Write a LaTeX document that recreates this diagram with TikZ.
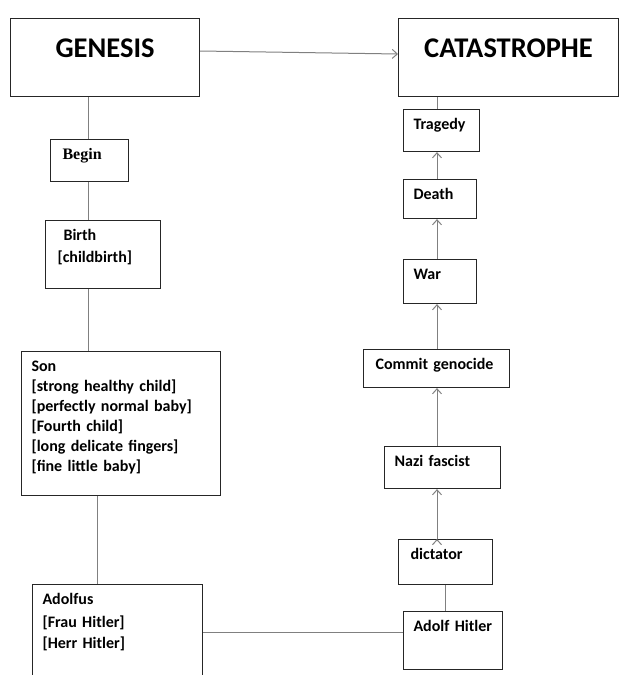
\documentclass[tikz,border=0pt]{standalone}
\usepackage{fontspec}
\setmainfont{Carlito}
\newfontfamily\serifbox{Liberation Serif}
\usetikzlibrary{arrows.meta}

\begin{document}
\begin{tikzpicture}
  [x=1pt,y=-1pt,
   every node/.style={draw=black!85,line width=1.1pt,anchor=north west,
     inner xsep=10pt,inner ysep=0pt,align=left,
     font=\fontsize{16}{20}\selectfont\bfseries},
   box/.style 2 args={text width=#1pt-20pt,text height=20pt,text depth=#2pt-20pt},
   title/.style 2 args={text width=#1pt-20pt,text height=39pt,text depth=#2pt-39pt,
     align=center,font=\fontsize{28.5}{34}\selectfont\bfseries}]

  \tikzstyle{link} = [draw=black!50,line width=1pt]
  \tikzstyle{arr} = [link,-{Straight Barb[length=5pt,width=9pt]}]

  \clip (0,0) rectangle (619,675);

  \node[title={189}{78}] (genesis)     at (10,18)  {GENESIS};
  \node[title={220}{78}] (catastrophe) at (398,18) {CATASTROPHE};

  % left column
  \node[box={78}{42},font=\serifbox\fontsize{16}{20}\selectfont\bfseries]
                         (begin)   at (50,139) {\hspace*{2pt}Begin};
  \node[box={115}{68}]   (birth)   at (45,220) {\hspace*{8pt}Birth\\[2pt]\hspace*{2pt}{[}childbirth]};
  \node[box={199}{144}]  (son)     at (21,351) {Son\\{[}strong healthy child]\\{[}perfectly normal baby]\\{[}Fourth child]\\{[}long delicate fingers]\\{[}fine little baby]};
  \node[box={170}{110}]  (adolfus) at (32,584) {Adolfus\\[3pt]{[}Frau Hitler]\\[1pt]{[}Herr Hitler]};

  % right column
  \node[box={76}{42}]    (tragedy)  at (403,109) {Tragedy};
  \node[box={73}{39}]    (death)    at (403,179) {Death};
  \node[box={73}{44}]    (war)      at (403,259) {War};
  \node[box={146}{38}]   (genocide) at (363,349) {\hspace*{2pt}Commit genocide};
  \node[box={116}{42}]   (nazi)     at (384,446) {Nazi fascist};
  \node[box={94}{45}]    (dictator) at (398,539) {\hspace*{2pt}dictator};
  \node[box={99}{58}]    (hitler)   at (403,611) {Adolf Hitler};

  \coordinate (trunk) at (88,0);
  \coordinate (stem)  at (97,0);
  \coordinate (spine) at (437,0);
  \coordinate (tie)   at (0,632);

  \draw[arr] ([yshift=-33pt]genesis.north east) -- ([yshift=-36pt]catastrophe.north west);

  \path[link] (genesis.south -| trunk) edge (begin.north -| trunk)
              (begin.south -| trunk)   edge (birth.north -| trunk)
              (birth.south -| trunk)   edge (son.north -| trunk)
              (son.south -| stem)      edge (adolfus.north -| stem)
              (adolfus.east |- tie)    edge (hitler.west |- tie)
              (catastrophe.south -| spine) edge (tragedy.north -| spine)
              (dictator.south)         edge (dictator.south |- hitler.north);

  \path[arr] (death.north -| spine)    edge (tragedy.south -| spine)
             (war.north -| spine)      edge (death.south -| spine)
             (genocide.north -| spine) edge (war.south -| spine)
             (nazi.north -| spine)     edge (genocide.south -| spine)
             (dictator.north -| spine) edge (nazi.south -| spine);
\end{tikzpicture}
\end{document}
